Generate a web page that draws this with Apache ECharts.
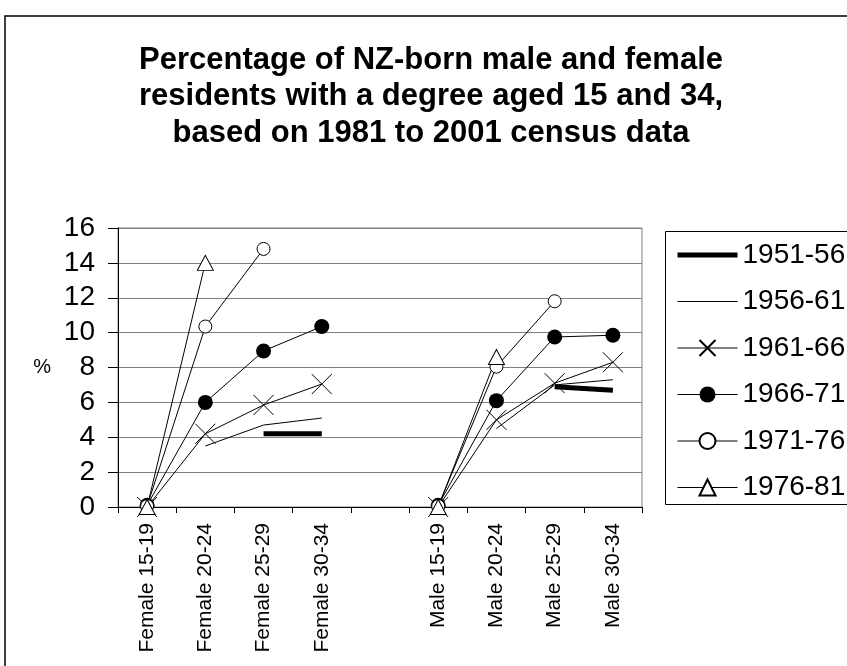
<!DOCTYPE html>
<html>
<head>
<meta charset="utf-8">
<script src="https://cdn.jsdelivr.net/npm/echarts@6/dist/echarts.min.js"></script>
<style>
  html, body { margin: 0; padding: 0; background: #fff; }
  #main { width: 847px; height: 666px; }
</style>
</head>
<body>
<div id="main"></div>
<script>
const categories = ['Female 15-19', 'Female 20-24', 'Female 25-29', 'Female 30-34', '',
  'Male 15-19', 'Male 20-24', 'Male 25-29', 'Male 30-34'];
const yTicks = [0, 2, 4, 6, 8, 10, 12, 14, 16];

const c1951 = [null, null, 4.2, 4.2, null, null, null, 6.9, 6.7];
const c1956 = [null, 3.5, 4.7, 5.1, null, null, 4.5, 7.0, 7.3];
const c1961 = [0, 4.2, 5.85, 7.05, null, 0, 5.0, 7.1, 8.3];
const c1966 = [0.1, 6.0, 8.95, 10.35, null, 0.1, 6.1, 9.75, 9.85];
const c1971 = [0.05, 10.35, 14.8, null, null, 0.05, 8.05, 11.8, null];
const c1976 = [0, 14.0, null, null, null, 0, 8.6, null, null];

const titleText = 'Percentage of NZ-born male and female\nresidents with a degree aged 15 and 34,\nbased on 1981 to 2001 census data';

const chart = echarts.init(document.getElementById('main'));

const baseFont = 'Liberation Sans, Arial, sans-serif';
const crossPath = 'path://M0,0L10,10M10,0L0,10';
const clear = 'rgba(0,0,0,0)';

function lineSeries(name, data, extra) {
  return Object.assign({
    name: name,
    type: 'line',
    data: data,
    connectNulls: false,
    symbol: 'none',
    lineStyle: { color: '#000', width: 1 },
    itemStyle: { color: clear },
    emphasis: { disabled: true },
    animation: false
  }, extra);
}

const option = {
  backgroundColor: '#fff',
  legend: {
    orient: 'vertical',
    left: 670,
    top: 236,
    itemWidth: 60,
    itemHeight: 20,
    itemGap: 18.5,
    lineStyle: { width: 1 },
    textStyle: { fontFamily: baseFont, fontSize: 28, color: '#000' },
    data: [
      { name: '1951-56', lineStyle: { width: 5 } },
      '1956-61', '1961-66', '1966-71', '1971-76', '1976-81'
    ]
  },
  graphic: [
    {
      type: 'rect',
      shape: { x: 5, y: 16, width: 900, height: 700 },
      style: { fill: 'none', stroke: '#000', lineWidth: 1.5 },
      silent: true
    },
    {
      type: 'rect',
      shape: { x: 665.5, y: 231.5, width: 200, height: 273 },
      style: { fill: 'none', stroke: '#000', lineWidth: 1 },
      silent: true
    },
    {
      type: 'text',
      x: 431,
      y: 42,
      silent: true,
      style: {
        text: titleText,
        textAlign: 'center',
        textVerticalAlign: 'top',
        fontFamily: baseFont,
        fontWeight: 'bold',
        fontSize: 31,
        lineHeight: 36.5,
        fill: '#000'
      }
    }
  ],
  grid: {
    left: 118,
    top: 228,
    right: 205,
    bottom: 159,
    show: true,
    borderColor: '#808080',
    borderWidth: 1,
    backgroundColor: '#fff'
  },
  xAxis: {
    type: 'category',
    data: categories,
    boundaryGap: true,
    axisLine: { lineStyle: { color: '#000', width: 1 } },
    axisTick: { show: true, interval: 0, length: 6, lineStyle: { color: '#000' } },
    axisLabel: {
      interval: 0,
      rotate: 90,
      margin: 16,
      fontFamily: baseFont,
      fontSize: 21,
      color: '#000'
    },
    splitLine: { show: false }
  },
  yAxis: {
    type: 'value',
    min: yTicks[0],
    max: yTicks[yTicks.length - 1],
    interval: 2,
    name: '%',
    nameLocation: 'middle',
    nameRotate: 0,
    nameGap: 67,
    nameTextStyle: { fontFamily: baseFont, fontSize: 20, color: '#000' },
    axisLine: { show: true, lineStyle: { color: '#000', width: 1 } },
    axisTick: { show: true, length: 10, lineStyle: { color: '#000' } },
    axisLabel: { margin: 23, fontFamily: baseFont, fontSize: 28, color: '#000' },
    splitLine: { show: true, lineStyle: { color: '#808080', width: 1 } }
  },
  series: [
    lineSeries('1951-56', c1951, { lineStyle: { color: '#000', width: 5 } }),
    lineSeries('1956-61', c1956, {}),
    lineSeries('1961-66', c1961, {
      symbol: crossPath,
      symbolSize: 20,
      itemStyle: { color: 'none', borderColor: '#000', borderWidth: 1 }
    }),
    lineSeries('1966-71', c1966, {
      symbol: 'circle',
      symbolSize: 15,
      itemStyle: { color: '#000' }
    }),
    lineSeries('1971-76', c1971, {
      symbol: 'circle',
      symbolSize: 13,
      itemStyle: { color: '#fff', borderColor: '#000', borderWidth: 1 }
    }),
    lineSeries('1976-81', c1976, {
      symbol: 'triangle',
      symbolSize: [16, 15],
      itemStyle: { color: '#fff', borderColor: '#000', borderWidth: 1 }
    })
  ]
};

chart.setOption(option);
</script>
</body>
</html>
